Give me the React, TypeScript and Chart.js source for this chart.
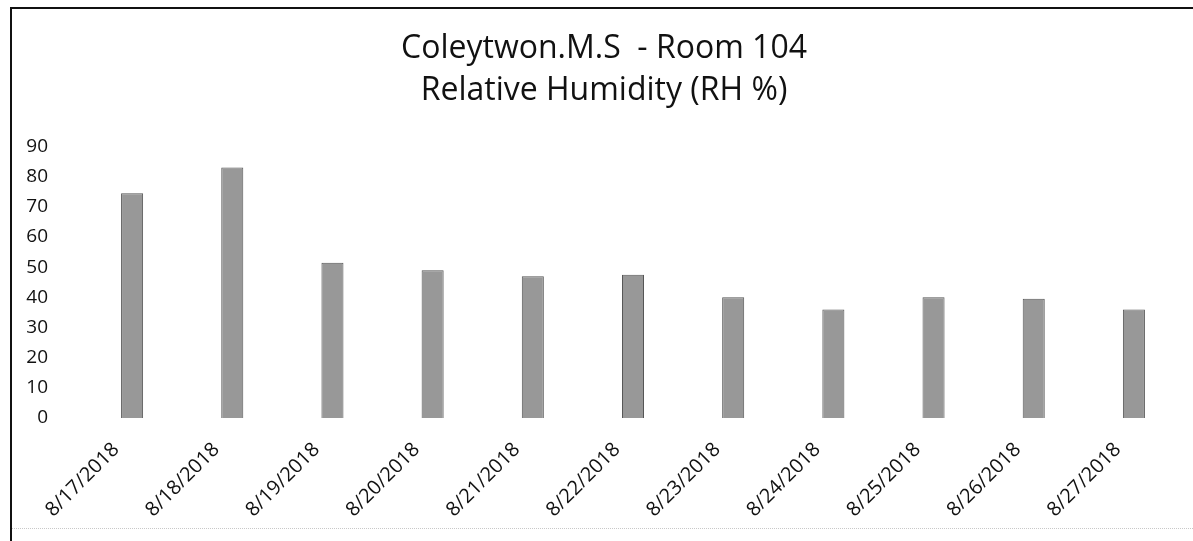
import React, { useEffect, useRef } from "react";
import { Chart, registerables } from "chart.js";

Chart.register(...registerables);

const titleLines = ["Coleytwon.M.S  - Room 104", "Relative Humidity (RH %)"];
const categories = [
  "8/17/2018", "8/18/2018", "8/19/2018", "8/20/2018", "8/21/2018", "8/22/2018",
  "8/23/2018", "8/24/2018", "8/25/2018", "8/26/2018", "8/27/2018",
];
const humidityValues = [74.5, 83, 51.5, 49, 47, 47.5, 40, 36, 40, 39.5, 36];
const yMin = 0;
const yMax = 90;
const yStep = 10;

export default function App() {
  const ref = useRef<HTMLCanvasElement | null>(null);

  useEffect(() => {
    if (!ref.current) return;
    const chart = new Chart(ref.current, {
      type: "bar",
      data: {
        labels: categories,
        datasets: [
          {
            data: humidityValues,
            backgroundColor: "#989898",
            borderColor: "#555555",
            borderWidth: 1,
            barPercentage: 0.22,
            categoryPercentage: 1,
          },
        ],
      },
      options: {
        responsive: false,
        animation: false,
        layout: { padding: { left: 24, right: 9, top: 0, bottom: 0 } },
        plugins: {
          legend: { display: false },
          tooltip: { enabled: false },
          title: {
            display: true,
            text: titleLines,
            color: "#111111",
            font: { family: "'Open Sans', 'Noto Sans', sans-serif", size: 32, weight: "normal", lineHeight: 1.32 },
            padding: { top: 28, bottom: 34 },
          },
        },
        scales: {
          x: {
            grid: { display: false, drawTicks: false },
            border: { display: false },
            ticks: {
              color: "#111111",
              font: { family: "'Open Sans', 'Noto Sans', sans-serif", size: 20 },
              maxRotation: 45,
              minRotation: 45,
              padding: 20,
              labelOffset: -16,
              autoSkip: false,
            },
            afterFit: (scale: any) => {
              scale.height = 123;
            },
          },
          y: {
            min: yMin,
            max: yMax,
            grid: { display: false, drawTicks: false },
            border: { display: false },
            ticks: {
              stepSize: yStep,
              color: "#111111",
              font: { family: "'Open Sans', 'Noto Sans', sans-serif", size: 19 },
              padding: 34,
            },
            afterFit: (scale: any) => {
              scale.width = 58;
            },
          },
        },
      },
    });
    return () => chart.destroy();
  }, []);

  return (
    <div>
      <canvas
        ref={ref}
        width={1193}
        height={541}
        style={{ position: "absolute", left: 0, top: 0, width: 1193, height: 541 }}
      />
      <div
        style={{
          position: "absolute",
          left: 10,
          top: 7,
          width: 1183,
          height: 534,
          borderLeft: "2px solid #111",
          borderTop: "2px solid #111",
          boxSizing: "border-box",
          pointerEvents: "none",
        }}
      />
      <div
        style={{
          position: "absolute",
          left: 12,
          top: 528,
          width: 1181,
          height: 0,
          borderTop: "1px dotted #c8c8c8",
          pointerEvents: "none",
        }}
      />
    </div>
  );
}
